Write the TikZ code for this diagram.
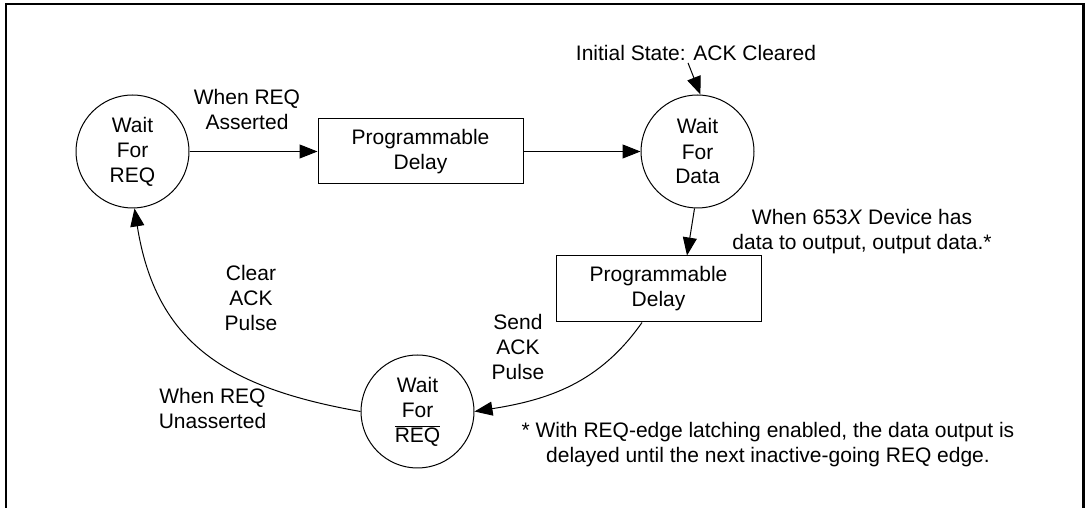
\documentclass[tikz,border=0pt]{standalone}
\usepackage{fontspec}
\setmainfont{Liberation Sans}
\usetikzlibrary{arrows.meta}
\begin{document}
\begin{tikzpicture}[x=1pt,y=1pt,
  every node/.style={font=\fontsize{21}{25}\selectfont, align=center, inner sep=0pt},
  state/.style={draw, circle, line width=1pt, minimum size=113pt},
  delaybox/.style={draw, rectangle, line width=1pt, minimum width=205pt, minimum height=65pt},
  conn/.style={line width=1pt, -{Triangle[length=18pt,width=14pt]}},
  frame/.style={line width=2.5pt}
]
\useasboundingbox (0,0) rectangle (1086,508);
\draw[frame] (6,0) -- (6,504) -- (1083.5,504) -- (1083.5,0);

\node[state] (c1) at (132.5,356.5) {Wait\\For\\REQ};
\node[delaybox] (b1) at (420.5,356.5) {Programmable\\Delay};
\node[state] (c2) at (697.5,356.5) {Wait\\For\\Data};
\node[delaybox, minimum height=66pt] (b2) at (658.5,219) {Programmable\\Delay};
\node[state] (c3) at (417.5,96.5) {Wait\\For\\$\overline{\mbox{REQ}}$};

\node (lab1) at (247,398) {When REQ\\Asserted};
\node (init) at (696,455) {Initial State: ACK Cleared};
\node (lab2) at (862,276) {When 653\textit{X} Device has\\data to output, output data.*};
\node (lab3) at (251,210) {Clear\\ACK\\Pulse};
\node (lab4) at (212.5,100) {When REQ\\Unasserted};
\node (lab5) at (518,161) {Send\\ACK\\Pulse};
\node (note) at (768,63) {* With REQ-edge latching enabled, the data output is\\delayed until the next inactive-going REQ edge.};

\coordinate (initend) at ([xshift=-8pt,yshift=-2pt]init.south);
\coordinate (b2in) at ([xshift=28.5pt]b2.north);
\coordinate (b2out) at ([xshift=-16.5pt]b2.south);

\draw[conn] (c1.east) -- (b1.west);
\draw[conn] (b1.east) -- (c2.west);
\draw[conn] (initend) -- (c2.87);
\draw[conn] (c2.-93) -- (b2in);
\draw[conn] (b2out) to[out=235,in=9] (c3.east);
\draw[conn] (c3.west) to[out=170,in=-81,looseness=1.15] (c1.272);
\end{tikzpicture}
\end{document}
